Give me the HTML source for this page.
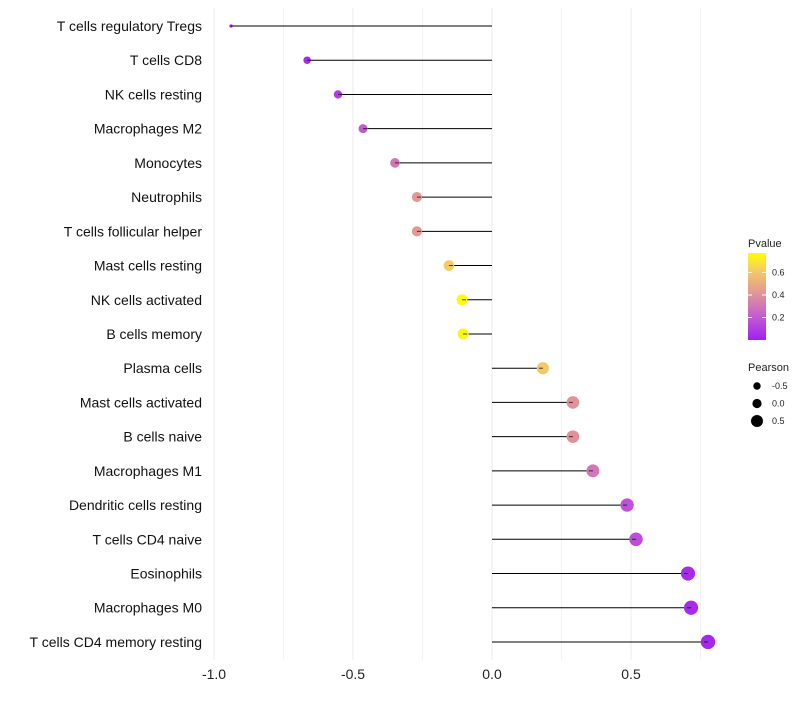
<!DOCTYPE html>
<html><head><meta charset="utf-8"><style>
body{margin:0;background:#fff;font-family:"Liberation Sans",sans-serif}
</style></head><body>
<svg id="chart" width="800" height="700" xmlns="http://www.w3.org/2000/svg">
<g id="grid"></g><g id="marks"></g><g id="labels"></g><g id="legend"></g>
</svg>
<script>
const categories=["T cells regulatory  Tregs","T cells CD8","NK cells resting","Macrophages M2","Monocytes","Neutrophils","T cells follicular helper","Mast cells resting","NK cells activated","B cells memory","Plasma cells","Mast cells activated","B cells naive","Macrophages M1","Dendritic cells resting","T cells CD4 naive","Eosinophils","Macrophages M0","T cells CD4 memory resting"];
const pearson=[-0.939,-0.665,-0.554,-0.464,-0.349,-0.27,-0.27,-0.155,-0.108,-0.104,0.183,0.291,0.291,0.363,0.486,0.518,0.705,0.716,0.777];
const pvalue=[0.0,0.04,0.1,0.2,0.3,0.42,0.42,0.62,0.76,0.74,0.6,0.4,0.4,0.3,0.17,0.16,0.04,0.04,0.03];
const xTicks=[-1.0,-0.5,0.0,0.5];
const xTickLabels=["-1.0","-0.5","0.0","0.5"];
const pTicks=[0.2,0.4,0.6];
const sizeTicks=[-0.5,0.0,0.5];

const NS="http://www.w3.org/2000/svg";
const X=v=>492+v*278;
const Y=i=>26+i*34.22;
const R=v=>1.5+5.7*Math.sqrt(Math.max(0,(v+0.94)/1.72));
function mk(t,a,p){const e=document.createElementNS(NS,t);for(const k in a)e.setAttribute(k,a[k]);p.appendChild(e);return e;}
const stops=[[0,[160,32,240]],[0.2,[195,90,210]],[0.45,[230,160,140]],[0.62,[245,205,100]],[0.77,[255,255,0]]];
function col(p){for(let i=1;i<stops.length;i++){if(p<=stops[i][0]||i==stops.length-1){const a=stops[i-1],b=stops[i];let t=(p-a[0])/(b[0]-a[0]);t=Math.max(0,Math.min(1,t));return "rgb("+a[1].map((c,j)=>Math.round(c+(b[1][j]-c)*t)).join(",")+")";}}}
const grid=document.getElementById('grid'),marks=document.getElementById('marks'),labels=document.getElementById('labels'),leg=document.getElementById('legend');
for(let v=-1;v<=0.8;v+=0.25){const l=mk('line',{x1:X(v),x2:X(v),y1:8,y2:660,stroke:'#ebebeb','stroke-width':v%0.5===0?1:0.6},grid);
}
xTicks.forEach((v,i)=>{const t=mk('text',{x:X(v),y:679,'text-anchor':'middle','font-size':14,fill:'#222'},labels);t.textContent=xTickLabels[i];
});
categories.forEach((c,i)=>{
const t=mk('text',{x:202,y:Y(i)+5,'text-anchor':'end','font-size':14,fill:'#111'},labels);t.textContent=c;

const l=mk('line',{x1:X(0),x2:X(pearson[i]),y1:Y(i),y2:Y(i),stroke:'#000','stroke-width':1},marks);

const d=mk('circle',{cx:X(pearson[i]),cy:Y(i),r:R(pearson[i]),fill:col(pvalue[i])},marks);

const s=mk('line',{x1:X(pearson[i]),x2:X(pearson[i])+(pearson[i]<0?4:-4),y1:Y(i),y2:Y(i),stroke:'#000','stroke-width':1,'stroke-opacity':0.7},marks);

});
const defs=mk('defs',{},leg);const g=mk('linearGradient',{id:'pg',x1:0,y1:1,x2:0,y2:0},defs);
stops.forEach(s=>mk('stop',{offset:s[0]/0.77,'stop-color':col(s[0])},g));
const pt=mk('text',{x:748,y:247,'font-size':11,fill:'#222'},leg);pt.textContent='Pvalue';

const bar=mk('rect',{x:748,y:253,width:18,height:87,fill:'url(#pg)'},leg);

const PY=p=>340-p*112.5;
pTicks.forEach(p=>{const tl=mk('text',{x:772,y:PY(p)+3,'font-size':9,fill:'#222'},leg);tl.textContent=p.toFixed(1);

mk('line',{x1:748,x2:752,y1:PY(p),y2:PY(p),stroke:'#fff'},leg);mk('line',{x1:762,x2:766,y1:PY(p),y2:PY(p),stroke:'#fff'},leg);});
const st=mk('text',{x:748,y:371,'font-size':11,fill:'#222'},leg);st.textContent='Pearson';

const LR=[3.7,4.6,6];
sizeTicks.forEach((v,i)=>{const cy=386+i*17.5;const c=mk('circle',{cx:757,cy:cy,r:LR[i],fill:'#000'},leg);

const tl=mk('text',{x:772,y:cy+3,'font-size':9,fill:'#222'},leg);tl.textContent=v.toFixed(1);
});
</script>
</body></html>
